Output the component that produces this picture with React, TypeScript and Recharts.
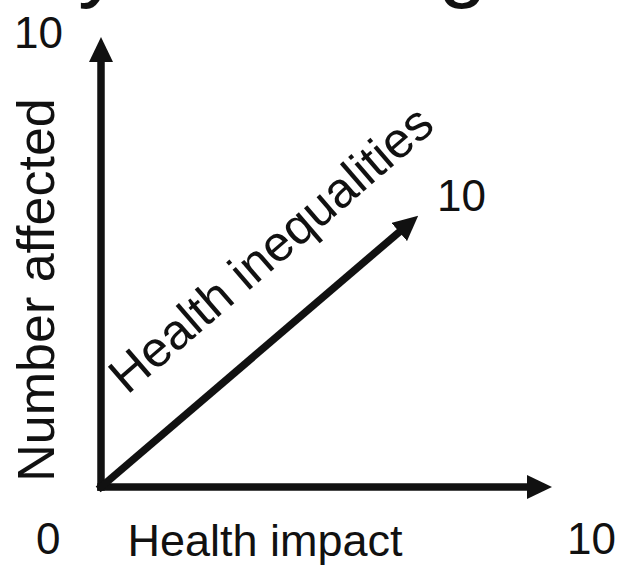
import { LineChart, Line, XAxis, YAxis } from 'recharts';

// three axes of the diagram, in 0-10 units
const verticalAxis = [
  { x: 0, y: 0 },
  { x: 0, y: 10 },
];
const horizontalAxis = [
  { x: 0, y: 0 },
  { x: 10, y: 0 },
];
const diagonalAxis = [
  { x: 0, y: 0 },
  { x: 7, y: 6 },
];

const scaleMin = '0';
const scaleMax = '10';
const xLabel = 'Health impact';
const yLabel = 'Number affected';
const diagLabel = 'Health inequalities';

const W = 624;
const H = 565;
const font = 'Arial, "Liberation Sans", sans-serif';
const ink = '#111';

export default function App() {
  const lineProps = {
    type: 'linear' as const,
    dataKey: 'y',
    stroke: ink,
    strokeWidth: 7.5,
    strokeLinecap: 'square' as const,
    markerEnd: 'url(#arrowHead)',
    dot: false,
    activeDot: false,
    isAnimationActive: false,
  };

  return (
    <div style={{ position: 'absolute', left: 0, top: 0, background: '#fff' }}>
      <LineChart width={W} height={H} margin={{ top: 62, right: 97, bottom: 78, left: 101 }}>
        <defs>
          <marker
            id="arrowHead"
            markerUnits="userSpaceOnUse"
            viewBox="0 0 25 24"
            markerWidth={25}
            markerHeight={24}
            refX={0}
            refY={12}
            orient="auto"
          >
            <path d="M0,0 L25,12 L0,24 Z" fill={ink} />
          </marker>
        </defs>
        <XAxis type="number" dataKey="x" domain={[0, 10]} hide />
        <YAxis type="number" domain={[0, 10]} hide />
        <Line data={verticalAxis} {...lineProps} />
        <Line data={horizontalAxis} {...lineProps} />
        <Line data={diagonalAxis} {...lineProps} />

        {/* slide title, mostly off the top of the frame */}
        <text x={122} y={-9} textAnchor="end" fontFamily={font} fontSize={88} fill={ink}>
          Priority
        </text>
        <text x={228} y={-9} fontFamily={font} fontSize={88} fill={ink}>
          setting
        </text>

        <text x={14} y={48} fontFamily={font} fontSize={44} fill={ink}>
          {scaleMax}
        </text>
        <text x={36} y={554} fontFamily={font} fontSize={44} fill={ink}>
          {scaleMin}
        </text>
        <text x={567} y={554} fontFamily={font} fontSize={44} fill={ink}>
          {scaleMax}
        </text>
        <text x={437} y={211} fontFamily={font} fontSize={44} fill={ink}>
          {scaleMax}
        </text>
        <text x={265} y={556} textAnchor="middle" fontFamily={font} fontSize={45} fill={ink}>
          {xLabel}
        </text>
        <text
          x={54}
          y={290}
          textAnchor="middle"
          transform="rotate(-90, 54, 290)"
          fontFamily={font}
          fontSize={52}
          fill={ink}
        >
          {yLabel}
        </text>
        <text
          x={282}
          y={262}
          textAnchor="middle"
          transform="rotate(-40.8, 282, 262)"
          fontFamily={font}
          fontSize={50}
          fill={ink}
        >
          {diagLabel}
        </text>
      </LineChart>
    </div>
  );
}
